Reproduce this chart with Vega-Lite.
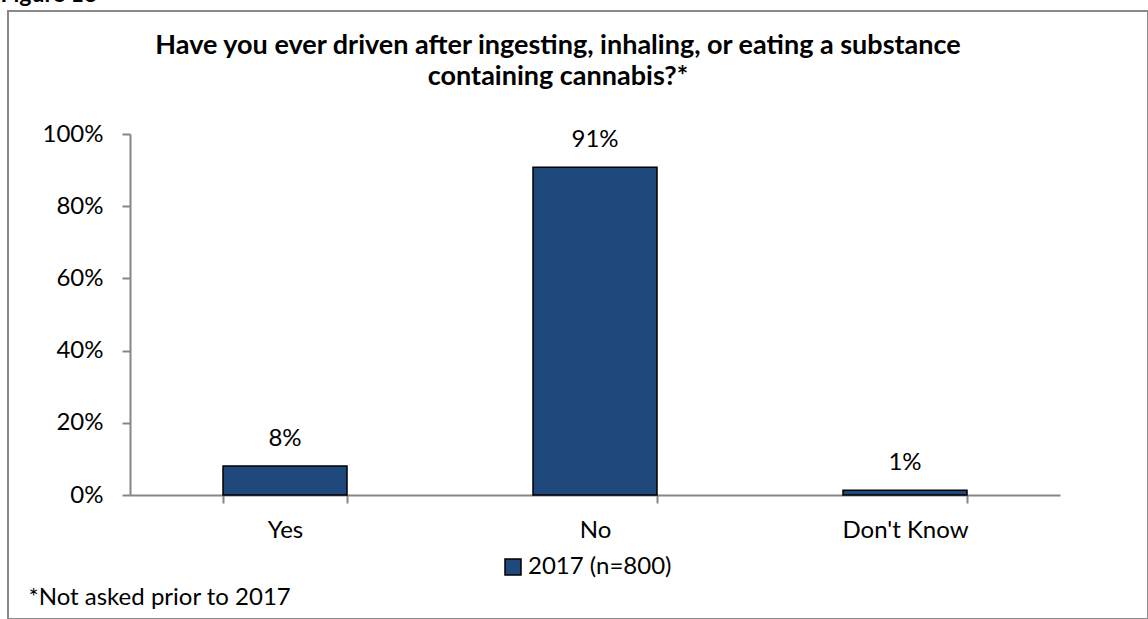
{
  "$schema": "https://vega.github.io/schema/vega-lite/v6.json",
  "autosize": {"type": "none"},
  "padding": {"left": 8, "top": 11, "right": 0, "bottom": 0},
  "width": 1140,
  "height": 608,
  "background": "white",
  "config": {
    "font": "Lato",
    "view": {"stroke": "#898989", "strokeWidth": 2}
  },
  "title": {
    "text": ["Have you ever driven after ingesting, inhaling, or eating a substance", "containing cannabis?*"],
    "frame": "group",
    "anchor": "middle",
    "dx": -20,
    "baseline": "top",
    "offset": -108,
    "fontSize": 27,
    "fontWeight": "bold",
    "font": "Lato",
    "color": "black",
    "lineHeight": 31
  },
  "data": {
    "values": [
      {"answer": "Yes", "pct": 0.08, "series": "2017 (n=800)"},
      {"answer": "No", "pct": 0.908, "series": "2017 (n=800)"},
      {"answer": "Don't Know", "pct": 0.013, "series": "2017 (n=800)"}
    ]
  },
  "encoding": {
    "x": {
      "field": "answer",
      "type": "nominal",
      "sort": ["Yes", "No", "Don't Know"],
      "scale": {"range": [122, 1052], "paddingInner": 0.6, "paddingOuter": 0.3},
      "axis": {
        "offset": -124,
        "tickBand": "extent",
        "domainColor": "#868686",
        "domainWidth": 2,
        "tickColor": "#868686",
        "tickWidth": 2,
        "tickSize": 8,
        "labelPadding": 34,
        "labelBaseline": "alphabetic",
        "labelFontSize": 24,
        "labelFont": "Lato",
        "labelColor": "black",
        "labelAngle": 0,
        "grid": false,
        "title": "*Not asked prior to 2017",
        "titleX": 20,
        "titleY": 109,
        "titleAlign": "left",
        "titleBaseline": "alphabetic",
        "titleFontSize": 24,
        "titleFont": "Lato",
        "titleFontWeight": "normal",
        "titleColor": "black"
      }
    },
    "y": {
      "field": "pct",
      "type": "quantitative",
      "scale": {"domain": [0, 1], "range": [484, 123], "nice": false, "zero": true},
      "axis": {
        "values": [0, 0.2, 0.4, 0.6, 0.8, 1],
        "format": ".0%",
        "offset": -122,
        "domainColor": "#868686",
        "domainWidth": 2,
        "tickColor": "#868686",
        "tickWidth": 2,
        "tickSize": 8,
        "labelPadding": 19,
        "labelFontSize": 24,
        "labelFont": "Lato",
        "labelColor": "black",
        "grid": false,
        "title": "Figure 13",
        "titleAngle": 0,
        "titleX": -130,
        "titleY": -10,
        "titleAlign": "left",
        "titleBaseline": "alphabetic",
        "titleFontSize": 23,
        "titleFont": "Lato",
        "titleFontWeight": "bold",
        "titleColor": "black"
      }
    }
  },
  "layer": [
    {
      "mark": {"type": "bar", "stroke": "black", "strokeWidth": 1.5},
      "encoding": {
        "fill": {
          "field": "series",
          "type": "nominal",
          "scale": {"range": ["#1F497D"]},
          "legend": {
            "orient": "none",
            "legendX": 493,
            "legendY": 544,
            "title": null,
            "symbolType": "square",
            "symbolSize": 256,
            "symbolStrokeColor": "black",
            "symbolStrokeWidth": 1.5,
            "symbolFillColor": "#1F497D",
            "labelFontSize": 24,
            "labelFont": "Lato",
            "labelColor": "black",
            "labelOffset": 3,
            "padding": 0
          }
        }
      }
    },
    {
      "mark": {"type": "text", "baseline": "alphabetic", "dy": -20, "fontSize": 24, "font": "Lato", "color": "black"},
      "encoding": {
        "text": {"field": "pct", "type": "quantitative", "format": ".0%"}
      }
    }
  ]
}
